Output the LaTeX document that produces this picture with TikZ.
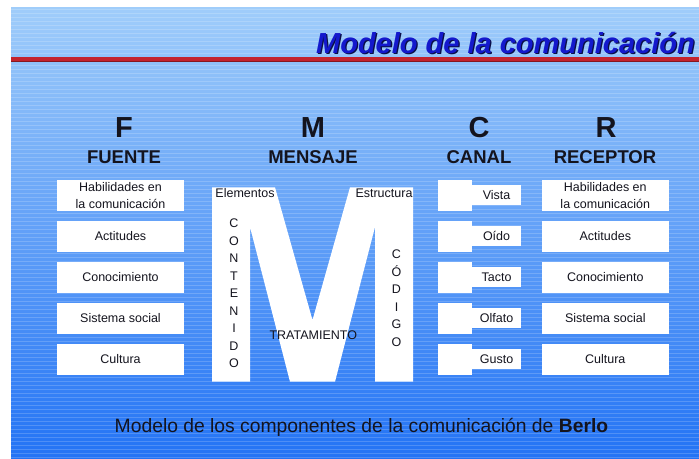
\documentclass[tikz,border=0pt]{standalone}
\usepackage{fontspec}
\setmainfont{Liberation Sans}
\usepackage{tikz}
\usetikzlibrary{positioning}

\definecolor{bgtop}{RGB}{160,205,250}
\definecolor{bgmid}{RGB}{88,158,242}
\definecolor{bgbot}{RGB}{35,115,245}
\definecolor{titleblue}{RGB}{20,25,205}
\definecolor{titleshade}{RGB}{10,15,70}
\definecolor{redbar}{RGB}{195,35,45}
\definecolor{ink}{RGB}{20,20,30}

\tikzset{
	cell/.style={fill=white, text=ink, inner sep=0pt, minimum width=127pt, minimum height=30.7pt, align=center, font=\fontsize{12.5}{17.7}\selectfont},
	sqcell/.style={fill=white, inner sep=0pt, minimum width=33.7pt, minimum height=30.7pt},
	sense/.style={fill=white, text=ink, inner sep=0pt, minimum width=49pt, minimum height=20pt, text height=9pt, text depth=0pt, font=\fontsize{12.5}{15}\selectfont},
	bigletter/.style={text=ink, inner sep=0pt, font=\fontsize{29}{29}\bfseries\selectfont},
	headword/.style={text=ink, inner sep=0pt, font=\fontsize{18.5}{18.5}\bfseries\selectfont},
	mtext/.style={text=ink, inner sep=0pt, anchor=base, font=\fontsize{12.5}{15}\selectfont},
	stripe/.style={white, opacity=0.18, line width=0.9pt}
}

\begin{document}
\begin{tikzpicture}[x=1pt,y=-1pt]
	\useasboundingbox (0,0) rectangle (699,458);
	\fill[white] (0,0) rectangle (699,458);
	\shade[top color=bgtop, middle color=bgmid, bottom color=bgbot] (11,7) rectangle (699,458);
	\foreach \y in {9,13,...,457}
		\draw[stripe] (11,\y) -- (699,\y);

	\fill[redbar] (11,57) rectangle (699,61.5);
	\draw[redbar!70!black, line width=0.6pt] (11,61.5) -- (699,61.5);
	\node[anchor=base east, text=titleshade, inner sep=0pt, font=\fontsize{29}{29}\bfseries\itshape\selectfont] (titleshadow) at (696.3,54.3) {Modelo de la comunicación};
	\node[anchor=base east, text=titleblue, inner sep=0pt, font=\fontsize{29}{29}\bfseries\itshape\selectfont] (title) at (695,53) {Modelo de la comunicación};

	\node[bigletter] (f) at (124,127.5) {F};
	\node[bigletter] (m) at (313,127.5) {M};
	\node[bigletter] (c) at (479,127.5) {C};
	\node[bigletter] (r) at (606,127.5) {R};
	\node[headword] (fuente) at (124,157.5) {FUENTE};
	\node[headword] (mensaje) at (313,157.5) {MENSAJE};
	\node[headword] (canal) at (479,157.5) {CANAL};
	\node[headword] (receptor) at (605,157.5) {RECEPTOR};

	\foreach \t [count=\i] in {{Habilidades en\\la comunicación},Actitudes,Conocimiento,Sistema social,Cultura} {
		\node[cell] (src\i) at (120.5,195.4+41*\i-41) {\t};
		\node[cell] (rec\i) at (605.3,195.4+41*\i-41) {\t};
	}

	\foreach \t [count=\i] in {Vista,Oído,Tacto,Olfato,Gusto} {
		\node[sqcell] (sq\i) at (454.8,195.4+41*\i-41) {};
		\node[sense, right=0pt of sq\i] (sense\i) {\t};
	}

	\fill[white] (212,381.7) -- (212,187.3) -- (275,187.3) -- (312.5,320) -- (350,187.3) -- (413,187.3) -- (413,381.7) -- (375,381.7) -- (375,227) -- (335,381.7) -- (290,381.7) -- (250,227) -- (250,381.7) -- cycle;
	\node[mtext] (elementos) at (245,197.8) {Elementos};
	\node[mtext] (estructura) at (384,197.8) {Estructura};
	\node[mtext] (tratamiento) at (313.3,339.5) {TRATAMIENTO};
	\foreach \l [count=\i] in {C,O,N,T,E,N,I,D,O}
		\node[mtext] (cont\i) at (234,227.8+17.5*\i-17.5) {\l};
	\foreach \l [count=\i] in {C,Ó,D,I,G,O}
		\node[mtext] (cod\i) at (396.5,258.5+17.5*\i-17.5) {\l};

	\node[anchor=base, text=ink, inner sep=0pt, font=\fontsize{19.3}{19.3}\selectfont] (caption) at (361.5,432.8) {Modelo de los componentes de la comunicación de \textbf{Berlo}};
\end{tikzpicture}
\end{document}
